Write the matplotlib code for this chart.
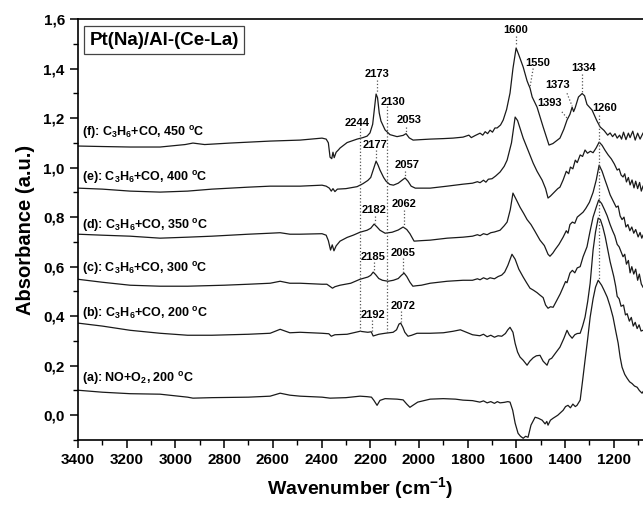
import matplotlib
matplotlib.use('Agg')
import matplotlib.pyplot as plt
from matplotlib.ticker import MultipleLocator, FuncFormatter

plt.rcParams['font.family'] = ['Liberation Sans', 'DejaVu Sans']
plt.rcParams['font.weight'] = 'bold'
plt.rcParams['mathtext.fontset'] = 'custom'
plt.rcParams['mathtext.rm'] = 'Liberation Sans:bold'
plt.rcParams['mathtext.it'] = 'Liberation Sans:bold'
plt.rcParams['mathtext.bf'] = 'Liberation Sans:bold'

# spectra: (wavenumber, absorbance)
spec_a = [(3400,0.101),(3300,0.093),(3186,0.087),(3063,0.085),(2950,0.073),(2928,0.069),(2850,0.071),(2700,0.073),
          (2611,0.077),(2570,0.089),(2530,0.081),(2488,0.077),(2398,0.073),(2365,0.069),(2300,0.071),(2242,0.077),
          (2213,0.075),(2195,0.073),(2185,0.060),(2172,0.040),(2160,0.060),(2139,0.067),(2090,0.065),(2065,0.062),
          (2050,0.045),(2037,0.032),(2025,0.040),(2005,0.053),(1954,0.065),(1900,0.067),(1850,0.065),(1819,0.061),
          (1780,0.059),(1750,0.053),(1735,0.058),(1720,0.050),(1705,0.055),(1690,0.048),(1678,0.055),(1667,0.050),
          (1650,0.052),(1635,0.055),(1626,0.053),(1615,0.020),(1605,-0.032),(1593,-0.073),(1583,-0.085),(1572,-0.093),
          (1562,-0.085),(1552,-0.089),(1540,-0.040),(1523,-0.008),(1510,-0.012),(1494,-0.020),(1482,-0.035),(1475,-0.025),
          (1470,-0.040),(1460,-0.020),(1449,-0.012),(1430,0.000),(1408,0.020),(1398,0.035),(1388,0.040),(1378,0.030),
          (1368,0.045),(1358,0.035),(1351,0.040),(1338,0.061),(1328,0.140),(1318,0.222),(1307,0.310),(1297,0.396),
          (1285,0.470),(1275,0.517),(1264,0.545),(1250,0.525),(1240,0.505),(1227,0.477),(1215,0.440),(1203,0.396),
          (1192,0.340),(1182,0.291),(1174,0.235),(1166,0.194),(1155,0.165),(1145,0.149),(1135,0.135),(1125,0.128),
          (1115,0.118),(1104,0.113),(1095,0.100),(1084,0.089),(1080,0.095)]

spec_b = [(3400,0.372),(3300,0.360),(3186,0.343),(3063,0.331),(2950,0.323),(2850,0.323),(2700,0.327),(2611,0.331),
          (2570,0.347),(2530,0.333),(2488,0.335),(2398,0.331),(2370,0.329),(2360,0.319),(2345,0.325),(2295,0.327),
          (2242,0.339),(2210,0.335),(2196,0.337),(2188,0.320),(2178,0.323),(2165,0.327),(2139,0.331),(2106,0.335),
          (2092,0.345),(2082,0.368),(2075,0.372),(2066,0.355),(2058,0.335),(2045,0.319),(2030,0.323),(2008,0.331),
          (1954,0.331),(1900,0.333),(1860,0.339),(1830,0.345),(1810,0.337),(1780,0.325),(1750,0.321),(1735,0.327),
          (1720,0.317),(1705,0.323),(1690,0.315),(1675,0.321),(1660,0.319),(1645,0.330),(1635,0.345),(1626,0.355),
          (1614,0.335),(1605,0.290),(1595,0.255),(1585,0.235),(1572,0.222),(1556,0.202),(1545,0.218),(1531,0.232),
          (1518,0.240),(1503,0.242),(1490,0.218),(1482,0.210),(1474,0.202),(1465,0.225),(1455,0.230),(1440,0.250),
          (1421,0.275),(1405,0.310),(1392,0.343),(1383,0.325),(1371,0.311),(1360,0.325),(1350,0.330),(1338,0.331),
          (1328,0.360),(1318,0.396),(1307,0.460),(1297,0.533),(1285,0.667),(1275,0.740),(1264,0.796),(1255,0.790),
          (1245,0.760),(1235,0.720),(1227,0.680),(1215,0.620),(1200,0.560),(1192,0.520),(1186,0.480),(1178,0.470),
          (1170,0.440),(1160,0.445),(1152,0.405),(1145,0.410),(1136,0.380),(1128,0.395),(1120,0.360),(1112,0.375),
          (1104,0.350),(1096,0.365),(1088,0.340),(1080,0.343)]

spec_c = [(3400,0.549),(3300,0.537),(3186,0.525),(3063,0.521),(2950,0.521),(2800,0.525),(2700,0.529),(2611,0.533),
          (2570,0.541),(2530,0.533),(2488,0.533),(2398,0.529),(2378,0.529),(2365,0.520),(2355,0.513),(2345,0.519),
          (2324,0.525),(2280,0.533),(2242,0.549),(2210,0.558),(2198,0.565),(2188,0.578),(2178,0.568),(2165,0.552),
          (2150,0.545),(2127,0.541),(2105,0.545),(2085,0.552),(2072,0.565),(2061,0.574),(2050,0.560),(2037,0.537),
          (2025,0.521),(2010,0.523),(1990,0.525),(1954,0.533),(1884,0.541),(1819,0.545),(1780,0.545),(1760,0.551),
          (1749,0.547),(1735,0.555),(1720,0.549),(1708,0.555),(1690,0.551),(1675,0.560),(1660,0.566),(1648,0.578),
          (1635,0.605),(1618,0.650),(1605,0.630),(1590,0.590),(1572,0.558),(1558,0.535),(1544,0.513),(1530,0.505),
          (1515,0.495),(1503,0.485),(1490,0.475),(1480,0.445),(1470,0.432),(1460,0.438),(1449,0.436),(1435,0.462),
          (1420,0.490),(1408,0.517),(1398,0.540),(1392,0.535),(1380,0.574),(1370,0.585),(1360,0.575),(1350,0.595),
          (1338,0.600),(1326,0.640),(1310,0.680),(1298,0.740),(1285,0.800),(1272,0.840),(1262,0.869),(1250,0.855),
          (1238,0.830),(1227,0.805),(1215,0.770),(1205,0.745),(1196,0.725),(1186,0.690),(1178,0.680),(1170,0.660),
          (1162,0.640),(1155,0.650),(1148,0.610),(1140,0.625),(1133,0.575),(1126,0.600),(1118,0.570),(1110,0.590),
          (1102,0.545),(1095,0.570),(1087,0.530),(1080,0.517)]

spec_d = [(3400,0.731),(3300,0.727),(3186,0.723),(3063,0.715),(2950,0.719),(2850,0.723),(2700,0.731),(2611,0.735),
          (2570,0.737),(2530,0.731),(2488,0.731),(2398,0.733),(2381,0.727),(2372,0.705),(2363,0.667),(2356,0.688),
          (2349,0.664),(2340,0.684),(2324,0.703),(2295,0.718),(2270,0.727),(2242,0.739),(2213,0.747),(2198,0.755),
          (2184,0.772),(2172,0.760),(2160,0.747),(2139,0.735),(2110,0.739),(2085,0.748),(2065,0.760),(2050,0.750),
          (2037,0.733),(2020,0.703),(1990,0.705),(1954,0.707),(1884,0.715),(1819,0.719),(1780,0.723),(1760,0.729),
          (1749,0.725),(1735,0.733),(1720,0.729),(1705,0.737),(1690,0.740),(1667,0.747),(1650,0.765),(1638,0.780),
          (1625,0.830),(1614,0.897),(1600,0.870),(1585,0.840),(1570,0.815),(1556,0.790),(1540,0.770),(1525,0.745),
          (1503,0.707),(1485,0.685),(1470,0.650),(1462,0.642),(1450,0.655),(1440,0.670),(1425,0.690),(1408,0.719),
          (1395,0.745),(1388,0.735),(1380,0.770),(1370,0.780),(1360,0.775),(1350,0.800),(1338,0.810),(1326,0.820),
          (1315,0.835),(1300,0.860),(1285,0.900),(1272,0.950),(1260,1.010),(1248,0.985),(1236,0.950),(1227,0.925),
          (1215,0.890),(1200,0.860),(1190,0.840),(1182,0.845),(1174,0.805),(1166,0.790),(1158,0.800),(1150,0.760),
          (1142,0.770),(1134,0.745),(1126,0.760),(1118,0.735),(1110,0.750),(1100,0.720),(1092,0.738),(1085,0.715),
          (1080,0.727)]

spec_e = [(3400,0.917),(3300,0.913),(3186,0.905),(3063,0.901),(2950,0.905),(2850,0.913),(2700,0.921),(2611,0.925),
          (2488,0.925),(2398,0.929),(2381,0.925),(2368,0.917),(2360,0.905),(2353,0.915),(2345,0.903),(2335,0.913),
          (2300,0.915),(2254,0.923),(2230,0.935),(2210,0.948),(2198,0.960),(2188,0.990),(2176,1.026),(2168,1.010),
          (2160,0.990),(2145,0.960),(2135,0.945),(2120,0.932),(2105,0.929),(2085,0.937),(2068,0.950),(2057,0.958),
          (2045,0.945),(2032,0.925),(2015,0.917),(1954,0.917),(1884,0.925),(1819,0.933),(1780,0.937),(1760,0.943),
          (1749,0.939),(1735,0.949),(1725,0.941),(1715,0.953),(1700,0.955),(1685,0.966),(1667,0.982),(1650,1.005),
          (1638,1.030),(1620,1.100),(1605,1.204),(1595,1.190),(1572,1.119),(1550,1.065),(1531,1.018),(1515,0.985),
          (1494,0.949),(1480,0.915),(1470,0.877),(1460,0.885),(1445,0.900),(1430,0.915),(1421,0.921),(1408,0.950),
          (1395,0.985),(1385,0.975),(1378,1.002),(1368,0.995),(1358,1.030),(1350,1.020),(1338,1.051),(1328,1.045),
          (1318,1.071),(1308,1.058),(1296,1.066),(1285,1.060),(1272,1.080),(1260,1.103),(1248,1.090),(1236,1.070),
          (1223,1.051),(1210,1.035),(1198,1.015),(1186,0.990),(1178,0.995),(1170,0.970),(1162,0.962),(1155,0.975),
          (1148,0.942),(1140,0.960),(1133,0.930),(1125,0.950),(1117,0.918),(1110,0.945),(1102,0.915),(1094,0.940),
          (1087,0.905),(1080,0.925)]

spec_f = [(3400,1.087),(3300,1.085),(3186,1.083),(3063,1.083),(2960,1.093),(2928,1.099),(2880,1.093),(2776,1.099),
          (2611,1.107),(2488,1.111),(2398,1.119),(2381,1.115),(2372,1.100),(2365,1.042),(2358,1.036),(2353,1.062),
          (2348,1.040),(2340,1.062),(2330,1.072),(2324,1.079),(2295,1.101),(2254,1.115),(2230,1.121),(2213,1.127),
          (2201,1.140),(2190,1.175),(2182,1.245),(2176,1.297),(2170,1.282),(2163,1.220),(2156,1.188),(2139,1.152),
          (2119,1.133),(2090,1.125),(2065,1.130),(2053,1.137),(2040,1.120),(2024,1.111),(1990,1.113),(1954,1.115),
          (1900,1.117),(1860,1.119),(1819,1.123),(1795,1.131),(1785,1.121),(1770,1.129),(1749,1.139),(1738,1.131),
          (1728,1.145),(1718,1.137),(1708,1.151),(1698,1.143),(1688,1.160),(1679,1.160),(1665,1.172),(1654,1.192),
          (1640,1.235),(1626,1.301),(1614,1.400),(1601,1.483),(1590,1.455),(1572,1.406),(1556,1.350),(1550,1.335),
          (1544,1.321),(1535,1.285),(1515,1.244),(1490,1.164),(1466,1.091),(1450,1.097),(1421,1.119),(1405,1.155),
          (1392,1.192),(1380,1.215),(1371,1.244),(1365,1.226),(1359,1.240),(1345,1.285),(1330,1.299),(1320,1.290),
          (1310,1.255),(1289,1.232),(1270,1.190),(1256,1.164),(1240,1.150),(1225,1.131),(1215,1.140),(1205,1.125),
          (1195,1.137),(1186,1.119),(1176,1.131),(1168,1.115),(1160,1.143),(1150,1.113),(1140,1.139),(1133,1.121),
          (1122,1.147),(1112,1.111),(1102,1.139),(1092,1.115),(1080,1.139)]

spectra = [spec_a, spec_b, spec_c, spec_d, spec_e, spec_f]

curve_labels = ['(a): NO+O$_2$, 200 $^{o}$C',
                '(b): C$_3$H$_6$+CO, 200 $^{o}$C',
                '(c): C$_3$H$_6$+CO, 300 $^{o}$C',
                '(d): C$_3$H$_6$+CO, 350 $^{o}$C',
                '(e): C$_3$H$_6$+CO, 400 $^{o}$C',
                '(f): C$_3$H$_6$+CO, 450 $^{o}$C']
curve_label_y = [0.149, 0.412, 0.594, 0.768, 0.958, 1.143]

# peak labels: text, label x, label y, leader (x0, y0, x1, y1)
peaks = [('2173', 2173, 1.378, (2173, 1.355, 2173, 1.305)),
         ('2130', 2106, 1.265, None),
         ('2244', 2254, 1.180, None),
         ('2053', 2041, 1.192, (2053, 1.165, 2053, 1.138)),
         ('2177', 2180, 1.091, (2177, 1.070, 2177, 1.030)),
         ('2057', 2049, 1.010, (2057, 0.988, 2057, 0.960)),
         ('2182', 2184, 0.828, (2182, 0.806, 2182, 0.775)),
         ('2062', 2061, 0.853, (2062, 0.830, 2062, 0.762)),
         ('2185', 2188, 0.638, (2185, 0.618, 2185, 0.580)),
         ('2065', 2065, 0.655, (2065, 0.635, 2065, 0.576)),
         ('2192', 2188, 0.404, (2192, 0.383, 2192, 0.337)),
         ('2072', 2065, 0.440, (2072, 0.420, 2072, 0.375)),
         ('1600', 1601, 1.556, (1601, 1.532, 1601, 1.490)),
         ('1550', 1511, 1.422, (1531, 1.400, 1544, 1.325)),
         ('1373', 1429, 1.333, (1392, 1.300, 1371, 1.248)),
         ('1393', 1462, 1.260, (1413, 1.225, 1392, 1.200)),
         ('1334', 1326, 1.402, (1330, 1.378, 1330, 1.302)),
         ('1260', 1236, 1.240, None)]

# long dotted guide lines: x, y top, y bottom
guides = [(2244, 1.160, 0.337), (2130, 1.250, 0.333), (1260, 1.212, 0.548)]

fig = plt.figure(figsize=(6.43, 5.05), dpi=100)
ax = fig.add_axes([0.1213, 0.1287, 0.8787, 0.8337])

for spec in spectra:
    w = [p[0] for p in spec]
    a = [p[1] for p in spec]
    ax.plot(w, a, color='#1a1a1a', lw=0.9)

for x, y0, y1 in guides:
    ax.plot([x, x], [y0, y1], ls=':', color='#555555', lw=0.9)

for txt, lx, ly, lead in peaks:
    ax.text(lx, ly, txt, ha='center', va='center', fontsize=8, fontweight='bold')
    if lead is not None:
        ax.plot([lead[0], lead[2]], [lead[1], lead[3]], ls=':', color='#555555', lw=0.9)

for lab, y in zip(curve_labels, curve_label_y):
    ax.text(3385, y, lab, ha='left', va='center', fontsize=9, fontweight='bold')

ax.text(3047, 1.515, 'Pt(Na)/Al-(Ce-La)', ha='center', va='center', fontsize=13.5, fontweight='bold',
        bbox=dict(boxstyle='square,pad=0.27', fc='white', ec='#444444', lw=0.9))

ax.set_xlim(3400, 1080)
ax.set_ylim(-0.1, 1.6)
ax.xaxis.set_major_locator(MultipleLocator(200))
ax.xaxis.set_minor_locator(MultipleLocator(100))
ax.yaxis.set_major_locator(MultipleLocator(0.2))
ax.yaxis.set_minor_locator(MultipleLocator(0.1))

def comma(v, pos):
    if abs(v) < 1e-9:
        v = 0.0
    return ('%.1f' % v).replace('.', ',')

ax.yaxis.set_major_formatter(FuncFormatter(comma))
ax.tick_params(which='major', direction='out', length=6, width=1.1, labelsize=11)
ax.tick_params(which='minor', direction='out', length=3.5, width=1.0)
for lab in ax.get_xticklabels() + ax.get_yticklabels():
    lab.set_fontweight('bold')
for s in ax.spines.values():
    s.set_linewidth(1.2)
ax.spines['right'].set_visible(False)

ax.set_xlabel('Wavenumber (cm$^{-1}$)', fontsize=14, fontweight='bold', labelpad=6)
ax.set_ylabel('Absorbance (a.u.)', fontsize=14.5, fontweight='bold', labelpad=6)

fig.savefig('out.png', dpi=100)
